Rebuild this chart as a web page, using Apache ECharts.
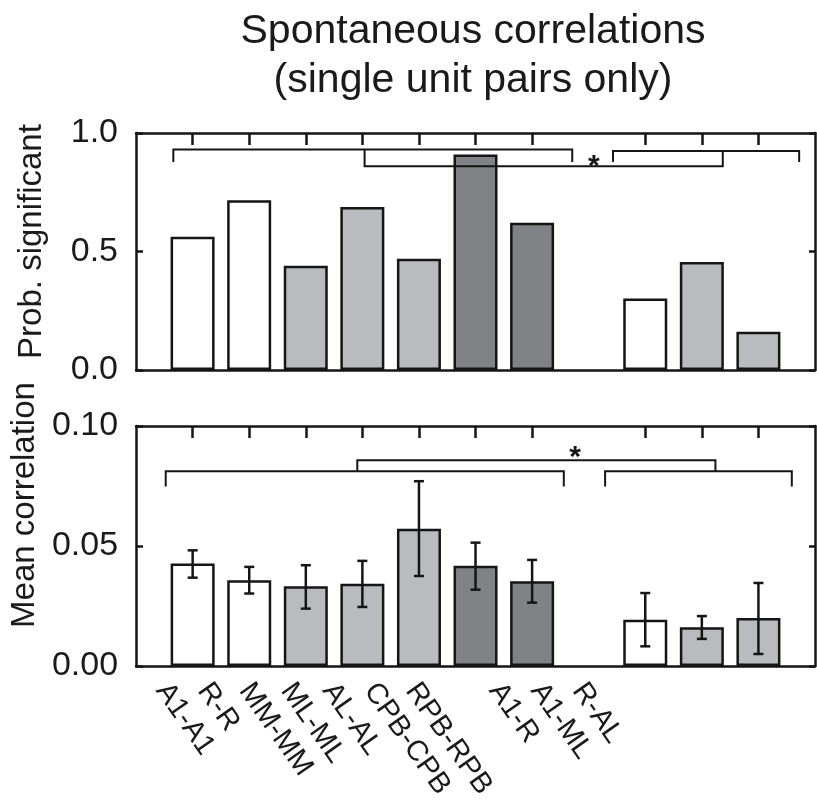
<!DOCTYPE html>
<html>
<head>
<meta charset="utf-8">
<script src="https://cdn.jsdelivr.net/npm/echarts@6/dist/echarts.min.js"></script>
<style>
  html, body { margin: 0; padding: 0; background: #fff; }
  #chart { width: 817px; height: 803px; }
</style>
</head>
<body>
<div id="chart"></div>
<script>
// pair labels, slot position on the shared x scale, and fill group
const categories = ['A1-A1', 'R-R', 'MM-MM', 'ML-ML', 'AL-AL', 'CPB-CPB', 'RPB-RPB', 'A1-R', 'A1-ML', 'R-AL']
const positions = [1, 2, 3, 4, 5, 6, 7, 9, 10, 11]
const groups = ['w', 'w', 'l', 'l', 'l', 'd', 'd', 'w', 'l', 'l']

// top panel: probability significant
const probSignificant = [0.562, 0.716, 0.44, 0.688, 0.469, 0.909, 0.621, 0.302, 0.456, 0.161]

// bottom panel: mean correlation with error bar limits
const meanCorr = [0.0427, 0.0357, 0.0332, 0.0343, 0.0572, 0.0418, 0.0353, 0.0193, 0.0161, 0.0200]
const errLow = [0.0368, 0.0302, 0.0239, 0.0246, 0.0375, 0.0318, 0.0264, 0.0082, 0.0113, 0.0050]
const errHigh = [0.0482, 0.0413, 0.0420, 0.0438, 0.0770, 0.0514, 0.0442, 0.0304, 0.0208, 0.0346]

// significance brackets (data units)
const topBrackets = [
  [[0.66, 0.878], [0.66, 0.93], [7.71, 0.93], [7.71, 0.878]],
  [[8.43, 0.878], [8.43, 0.924], [11.72, 0.924], [11.72, 0.878]],
  [[4.04, 0.93], [4.04, 0.86], [10.37, 0.86], [10.37, 0.924]]
]
const topStar = [8.09, 0.888]
const bottomBrackets = [
  [[0.524, 0.0748], [0.524, 0.0811], [7.56, 0.0811], [7.56, 0.0748]],
  [[8.29, 0.0748], [8.29, 0.0811], [11.59, 0.0811], [11.59, 0.0748]],
  [[3.91, 0.0811], [3.91, 0.0857], [10.24, 0.0857], [10.24, 0.0811]]
]
const bottomStar = [7.76, 0.0896]

const fills = { w: '#ffffff', l: '#b9bbbe', d: '#808285' }
const ink = '#151515'
const font = '"Liberation Sans", Arial, sans-serif'

const chart = echarts.init(document.getElementById('chart'), null, { renderer: 'canvas' })

const frameX = (gridIndex, pos) => ({
  type: 'value', gridIndex, position: pos, min: 0, max: 12,
  axisLine: { show: true, onZero: false, lineStyle: { color: ink, width: 2.5 } },
  axisTick: pos === 'top'
    ? { show: true, inside: true, length: 12, customValues: positions, lineStyle: { color: ink, width: 2.5 } }
    : { show: false },
  axisLabel: { show: false },
  splitLine: { show: false }
})

const frameY = (gridIndex, pos, max, interval, digits, name, shift) => ({
  type: 'value', gridIndex, position: pos, min: 0, max, interval,
  axisLine: { show: true, onZero: false, lineStyle: { color: ink, width: 2.5 } },
  axisTick: { show: true, inside: true, length: pos === 'left' ? 7 : 6, lineStyle: { color: ink, width: 2.5 } },
  axisLabel: {
    show: pos === 'left', margin: 18, fontSize: 34, color: '#1a1a1a', fontFamily: font,
    formatter: (v) => v.toFixed(digits)
  },
  splitLine: { show: false },
  name: pos === 'left' ? name : '',
  nameLocation: 'middle',
  nameGap: 88,
  nameRotate: 90,
  nameTextStyle: { fontSize: 33, color: '#1a1a1a', fontFamily: font, padding: [0, 0, 0, shift] }
})

const barData = (vals) => vals.map((v, i) => ({
  value: [positions[i], v],
  itemStyle: { color: fills[groups[i]] }
}))

const bracketSeries = (xi, yi, brackets, star) => [{
  type: 'custom', xAxisIndex: xi, yAxisIndex: yi, z: 5, clip: false,
  data: brackets.map((b, i) => [i]),
  renderItem: (params, api) => ({
    type: 'polyline',
    shape: { points: brackets[api.value(0)].map((p) => api.coord(p)) },
    style: { stroke: ink, lineWidth: 2, fill: null }
  })
}, {
  type: 'custom', xAxisIndex: xi, yAxisIndex: yi, z: 6, clip: false,
  data: [star],
  renderItem: (params, api) => {
    const p = api.coord([api.value(0), api.value(1)])
    // the asterisk glyph sits high in its em box, nudge it down to centre on the point
    return {
      type: 'text', x: p[0], y: p[1] + 7,
      style: { text: '*', fontSize: 30, fontWeight: 'bold', fontFamily: font, fill: ink, align: 'center', verticalAlign: 'middle' }
    }
  }
}]

const labelSlots = categories.slice(0, 7).concat([''], categories.slice(7))

chart.setOption({
  animation: false,
  backgroundColor: '#fff',
  title: {
    text: 'Spontaneous correlations\n(single unit pairs only)',
    left: 468, top: 2, textAlign: 'center',
    textStyle: { fontSize: 41, fontWeight: 'normal', color: '#1a1a1a', fontFamily: font, lineHeight: 49 }
  },
  grid: [
    { left: 136, top: 133, width: 679, height: 237 },
    { left: 136, top: 426, width: 679, height: 240 },
    { left: 141, top: 426, width: 458, height: 240 }
  ],
  xAxis: [
    frameX(0, 'bottom'),
    frameX(0, 'top'),
    frameX(1, 'bottom'),
    frameX(1, 'top'),
    {
      type: 'category', gridIndex: 2, data: labelSlots, position: 'bottom',
      axisLine: { show: false }, axisTick: { show: false },
      axisLabel: { interval: 0, rotate: -55, margin: 20, fontSize: 29, color: '#1a1a1a', fontFamily: font }
    }
  ],
  yAxis: [
    frameY(0, 'left', 1, 0.5, 1, 'Prob. significant', 20),
    frameY(0, 'right', 1, 0.5, 1, '', 0),
    frameY(1, 'left', 0.1, 0.05, 2, 'Mean correlation', 82),
    frameY(1, 'right', 0.1, 0.05, 2, '', 0),
    { type: 'value', gridIndex: 2, show: false, min: 0, max: 1 }
  ],
  series: [
    {
      type: 'bar', xAxisIndex: 0, yAxisIndex: 0, barWidth: 44, z: 2,
      itemStyle: { borderColor: ink, borderWidth: 2.5 },
      data: barData(probSignificant)
    },
    {
      type: 'bar', xAxisIndex: 2, yAxisIndex: 2, barWidth: 44, z: 2,
      itemStyle: { borderColor: ink, borderWidth: 2.5 },
      data: barData(meanCorr)
    },
    {
      type: 'custom', xAxisIndex: 2, yAxisIndex: 2, z: 4,
      data: positions.map((p, i) => [p, errLow[i], errHigh[i]]),
      renderItem: (params, api) => {
        const lo = api.coord([api.value(0), api.value(1)])
        const hi = api.coord([api.value(0), api.value(2)])
        const cap = 5
        const st = { stroke: ink, lineWidth: 2.5 }
        return {
          type: 'group',
          children: [
            { type: 'line', shape: { x1: lo[0], y1: lo[1], x2: hi[0], y2: hi[1] }, style: st },
            { type: 'line', shape: { x1: hi[0] - cap, y1: hi[1], x2: hi[0] + cap, y2: hi[1] }, style: st },
            { type: 'line', shape: { x1: lo[0] - cap, y1: lo[1], x2: lo[0] + cap, y2: lo[1] }, style: st }
          ]
        }
      }
    },
    ...bracketSeries(0, 0, topBrackets, topStar),
    ...bracketSeries(2, 2, bottomBrackets, bottomStar)
  ]
})
</script>
</body>
</html>
